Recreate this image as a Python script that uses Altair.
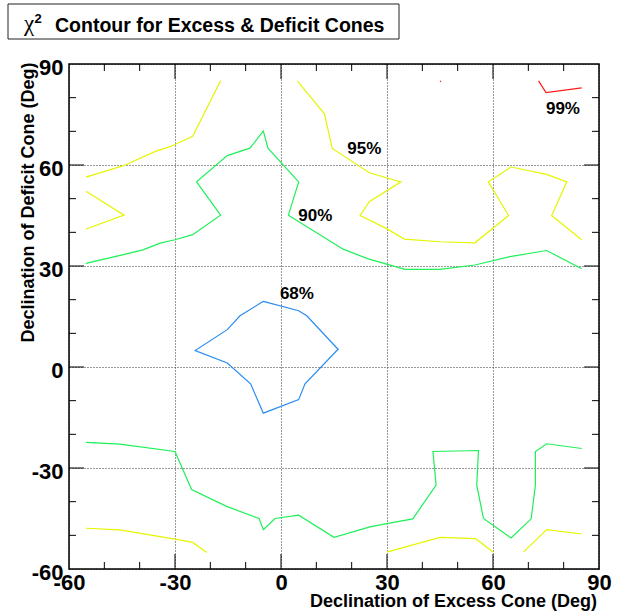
import altair as alt
import pandas as pd

# ---- contour polylines (declination of excess cone, declination of deficit cone) ----
c68_x = [-5.0, 5.0, 7.3, 16.2, 15.8, 6.8, 5.0, -5.0, -8.6, -15.2, -24.3, -15.2, -11.6, -5.0]
c68_y = [19.5, 16.7, 15.2, 5.2, 4.9, -5.0, -9.7, -13.7, -5.0, 1.2, 4.9, 11.1, 15.2, 19.5]

c90a_x = [-55.2, -44.6, -39.1, -34.2, -30.0, -25.0, -17.1, -23.9, -15.2, -8.8, -5.0, -3.7,
          5.0, 2.1, 17.6, 24.7, 35.1, 45.0, 54.9, 64.8, 75.2, 85.1]
c90a_y = [30.8, 33.4, 34.8, 36.8, 37.8, 39.3, 45.1, 55.0, 62.8, 65.0, 70.1, 65.0,
          55.0, 45.1, 35.0, 32.1, 29.0, 29.0, 30.3, 32.8, 34.6, 29.2]

c90b_x = [-55.2, -45.6, -30.0, -25.3, -15.4, -6.2, -5.0, -1.7, 5.0, 15.0, 25.2, 29.9,
          37.3, 43.9, 43.0, 55.9, 55.4, 57.3, 65.1, 70.8, 72.0, 72.0, 75.2, 85.1]
c90b_y = [-22.4, -22.9, -25.1, -36.4, -41.4, -45.0, -48.3, -45.0, -44.0, -50.6, -47.5, -46.5,
          -45.1, -35.1, -25.1, -24.8, -35.1, -45.0, -50.8, -45.1, -35.1, -25.1, -22.8, -24.2]

c95a_x = [-55.2, -44.6, -35.2, -32.4, -30.0, -25.0, -17.1]
c95a_y = [56.4, 59.8, 64.2, 65.1, 66.1, 68.5, 85.0]
c95b_x = [-55.2, -44.4, -55.2]
c95b_y = [52.2, 45.1, 41.0]
c95c_x = [4.6, 12.3, 14.5, 25.0, 33.9, 25.0, 22.4, 29.9, 34.9, 45.0, 54.9, 64.4, 58.7,
          65.1, 75.2, 80.9, 76.6, 85.1]
c95c_y = [85.0, 75.2, 64.9, 57.7, 55.0, 49.1, 45.0, 41.1, 38.0, 37.2, 36.9, 45.0, 55.0,
          59.4, 57.2, 55.0, 45.0, 37.8]
c95d_x = [-55.2, -45.6, -30.0, -25.0, -21.0]
c95d_y = [-47.9, -48.4, -51.1, -52.1, -55.1]
c95e_x = [29.9, 45.0, 55.1, 60.1]
c95e_y = [-55.0, -50.6, -51.0, -55.0]
c95f_x = [68.6, 75.2, 85.1]
c95f_y = [-55.0, -48.3, -49.6]

c99a_x = [72.9, 75.0, 85.1]
c99a_y = [85.0, 81.5, 82.9]
c99b_x = [45.0, 45.3]
c99b_y = [85.0, 84.7]

# ---- contour level labels ----
label_text = ["68%", "90%", "95%", "99%"]
label_x = [4.5, 9.7, 23.6, 79.8]
label_y = [21.6, 44.8, 64.7, 76.7]

# ---- axis ticks ----
major_ticks = [-30, 0, 30, 60]
minor_ticks = [-50, -40, -20, -10, 10, 20, 40, 50, 70, 80]
axis_labels = [-60, -30, 0, 30, 60, 90]

levels = ["68%", "90%", "95%", "99%"]
level_colors = ["#2a8cf0", "#1ef05a", "#e5f500", "#ff1a1a"]

segments = [
    ("68%", c68_x, c68_y), ("90%", c90a_x, c90a_y), ("90%", c90b_x, c90b_y),
    ("95%", c95a_x, c95a_y), ("95%", c95b_x, c95b_y), ("95%", c95c_x, c95c_y),
    ("95%", c95d_x, c95d_y), ("95%", c95e_x, c95e_y), ("95%", c95f_x, c95f_y),
    ("99%", c99a_x, c99a_y), ("99%", c99b_x, c99b_y),
]
rows = []
for sid, (lev, xs, ys) in enumerate(segments):
    for i, (xv, yv) in enumerate(zip(xs, ys)):
        rows.append({"seg": sid, "ord": i, "level": lev, "x": xv, "y": yv})
lines_df = pd.DataFrame(rows)
labels_df = pd.DataFrame({"t": label_text, "x": label_x, "y": label_y})
major_df = pd.DataFrame({"v": major_ticks})
minor_df = pd.DataFrame({"v": minor_ticks})

W, H = 530, 505
FONT = "Liberation Sans"

xscale = alt.Scale(domain=[-60, 90], nice=False, zero=False)
yscale = alt.Scale(domain=[-60, 90], nice=False, zero=False)

# plain ASCII hyphen for negative numbers
plain_label = "toString(datum.value)"

x_axis = alt.Axis(values=axis_labels, title=None, ticks=False, domain=False,
                  labelExpr=plain_label,
                  labelFont=FONT, labelFontSize=22, labelFontWeight="bold",
                  labelColor="black", labelPadding=3, labelFlush=False,
                  labelOverlap=False, grid=True, gridDash=[1, 2],
                  gridColor="#333333", gridWidth=1)
y_axis = alt.Axis(values=axis_labels, title=None, ticks=False, domain=False,
                  labelExpr=plain_label,
                  labelFont=FONT, labelFontSize=22, labelFontWeight="bold",
                  labelColor="black", labelPadding=6, labelFlush=False,
                  labelOverlap=False, labelOffset=3, grid=True, gridDash=[1, 2],
                  gridColor="#333333", gridWidth=1)

contours = alt.Chart(lines_df).mark_line(strokeWidth=1.2, clip=True).encode(
    x=alt.X("x:Q", scale=xscale, axis=x_axis),
    y=alt.Y("y:Q", scale=yscale, axis=y_axis),
    detail="seg:N",
    order="ord:Q",
    color=alt.Color("level:N", scale=alt.Scale(domain=levels, range=level_colors),
                    legend=None),
)

level_labels = alt.Chart(labels_df).mark_text(
    font=FONT, fontSize=17, fontWeight="bold", color="black",
    align="center", baseline="middle",
).encode(x=alt.X("x:Q", scale=xscale), y=alt.Y("y:Q", scale=yscale), text="t:N")


def xticks(df, length):
    base = alt.Chart(df).mark_rule(color="black", strokeWidth=1)
    bottom = base.encode(x=alt.X("v:Q", scale=xscale), y=alt.value(H), y2=alt.value(H - length))
    top = base.encode(x=alt.X("v:Q", scale=xscale), y=alt.value(0), y2=alt.value(length))
    return [bottom, top]


def yticks(df, length):
    base = alt.Chart(df).mark_rule(color="black", strokeWidth=1)
    left = base.encode(y=alt.Y("v:Q", scale=yscale), x=alt.value(0), x2=alt.value(length))
    right = base.encode(y=alt.Y("v:Q", scale=yscale), x=alt.value(W), x2=alt.value(W - length))
    return [left, right]


tick_layers = xticks(minor_df, 7) + xticks(major_df, 15) + yticks(minor_df, 7) + yticks(major_df, 15)

# frame around the plotting area
frame = alt.Chart(pd.DataFrame({"a": [0]})).mark_rect(
    fill=None, stroke="black", strokeWidth=1.5
).encode(x=alt.value(0), x2=alt.value(W), y=alt.value(0), y2=alt.value(H))

# title box in the upper-left corner
title_box = alt.Chart(pd.DataFrame({"a": [0]})).mark_rect(
    fill="white", stroke="#222222", strokeWidth=1
).encode(x=alt.value(-61), x2=alt.value(330), y=alt.value(-60), y2=alt.value(-25))

chi = alt.Chart(pd.DataFrame({"t": ["χ"]})).mark_text(
    font="Liberation Serif", fontSize=23, color="black", align="left", baseline="alphabetic"
).encode(x=alt.value(-45), y=alt.value(-33), text="t:N")
sup = alt.Chart(pd.DataFrame({"t": ["2"]})).mark_text(
    font=FONT, fontSize=13, fontWeight="bold", color="black", align="left",
    baseline="alphabetic"
).encode(x=alt.value(-34.5), y=alt.value(-41), text="t:N")
title_text = alt.Chart(pd.DataFrame({"t": ["Contour for Excess & Deficit Cones"]})).mark_text(
    font=FONT, fontSize=19.5, fontWeight="bold", color="black", align="left",
    baseline="alphabetic"
).encode(x=alt.value(-14), y=alt.value(-32.5), text="t:N")

x_title = alt.Chart(pd.DataFrame({"t": ["Declination of Excess Cone (Deg)"]})).mark_text(
    font=FONT, fontSize=18, fontWeight="bold", color="black", align="right",
    baseline="alphabetic"
).encode(x=alt.value(528), y=alt.value(543), text="t:N")
y_title = alt.Chart(pd.DataFrame({"t": ["Declination of Deficit Cone (Deg)"]})).mark_text(
    font=FONT, fontSize=18, fontWeight="bold", color="black", align="right",
    baseline="alphabetic", angle=270
).encode(x=alt.value(-35.5), y=alt.value(-1.5), text="t:N")

chart = alt.layer(
    contours, *tick_layers, level_labels, frame, title_box, chi, sup, title_text,
    x_title, y_title
).properties(
    width=W, height=H,
    autosize=alt.AutoSizeParams(type="none"),
    padding={"left": 69, "top": 64, "right": 21, "bottom": 47},
    background="white",
).configure_view(stroke=None)

chart.save("out.html", embed_options={"renderer": "svg", "actions": False})
